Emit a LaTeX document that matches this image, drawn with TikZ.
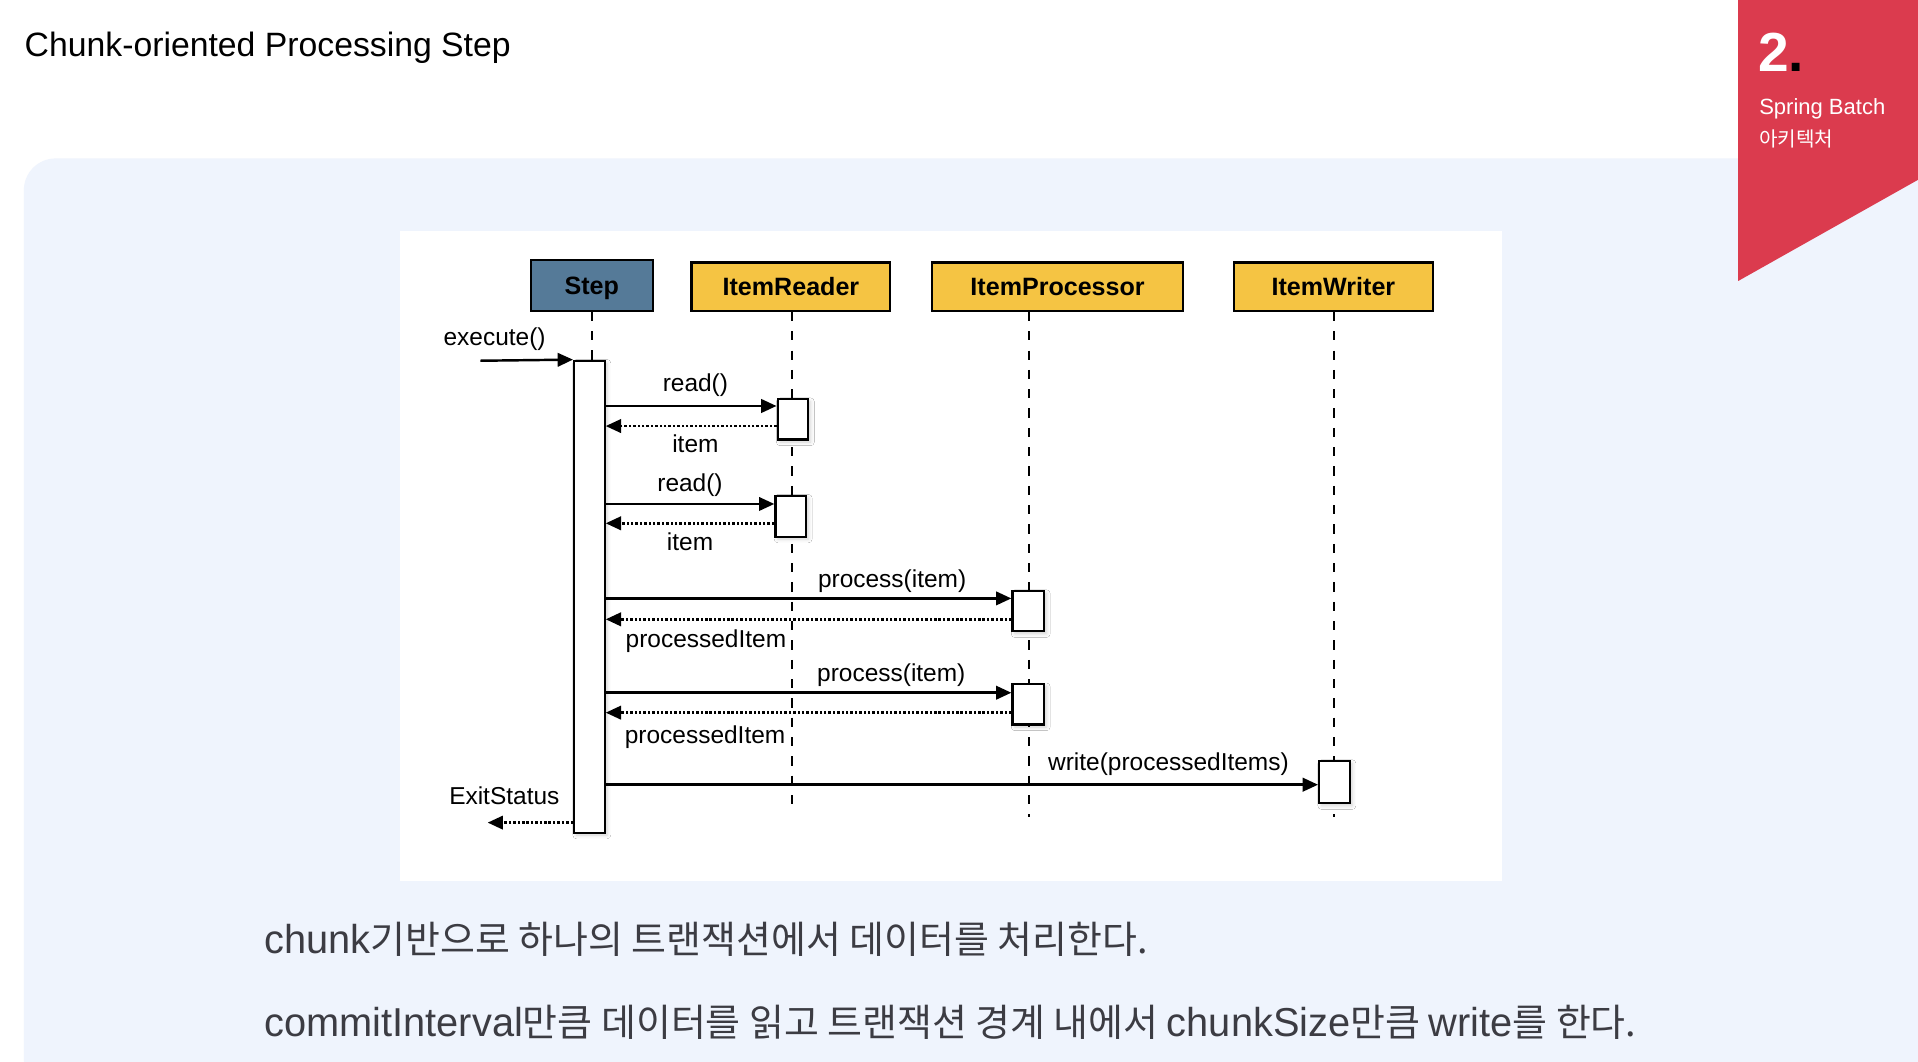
\documentclass[tikz,border=0pt]{standalone}
\usepackage{fontspec}
\setmainfont{Liberation Sans}
\newfontfamily\krfont{Noto Sans CJK KR}
\newfontfamily\bodyfont{Liberation Sans}[FakeStretch=0.985]
\usetikzlibrary{arrows.meta,positioning,shadows.blur}
\definecolor{stepblue}{HTML}{557A98}
\definecolor{partyellow}{HTML}{F5C443}
\definecolor{slidebg}{HTML}{EFF4FD}
\definecolor{chapred}{HTML}{DB3B4E}
\definecolor{bodygray}{HTML}{3C3C43}
\newcommand{\kr}[1]{{\krfont\fontsize{31}{38}\selectfont #1}}

\tikzset{
	header/.style={draw, line width=1.8pt, inner sep=0pt, minimum height=39.5pt, text height=14.7pt, text depth=0pt, font=\fontsize{20.5}{24}\selectfont\bfseries},
	act/.style={draw, fill=white, line width=1.8pt, inner sep=0pt, minimum width=25pt, minimum height=33pt,
		blur shadow={shadow xshift=2pt, shadow yshift=-2pt, shadow blur radius=3pt, shadow opacity=18}},
	call/.style={line width=2pt, -{Triangle[length=12.5pt, width=11pt]}},
	reply/.style={line width=2pt, dash pattern=on 2pt off 1.6pt, -{Triangle[length=12.5pt, width=11pt]}},
	lifeline/.style={line width=1.6pt, dash pattern=on 7.6pt off 8.2pt},
	lbl/.style={font=\fontsize{20}{24}\selectfont, inner sep=2pt, text height=15pt, text depth=4pt}
}

\begin{document}
\begin{tikzpicture}[x=1pt, y=-1pt]

	\useasboundingbox (0,0) rectangle (1568,867.4);
	\clip (0,0) rectangle (1568,867.4);
	\fill[white] (0,0) rectangle (1568,867.4);
	\fill[slidebg, rounded corners=26pt] (19.5,129.5) rectangle (1620,920);
	\fill[chapred] (1421,0) -- (1568,0) -- (1568,147) -- (1421,229.7) -- cycle;
	\fill[white] (327,189) rectangle (1228,720);

	% slide texts
	\node[anchor=base west, inner sep=0pt, font=\fontsize{27.6}{32}\selectfont] (title) at (20,45.8) {Chunk-oriented Processing Step};
	\node[anchor=base west, inner sep=0pt, white, font=\fontsize{45}{50}\selectfont\bfseries] (chapnum) at (1437,58.6) {2\textcolor{black}{.}};
	\node[anchor=base west, inner sep=0pt, white, font=\fontsize{18}{22}\selectfont] (chapname) at (1438,94) {Spring Batch};
	\node[anchor=base west, inner sep=0pt, white, font=\krfont\fontsize{16.5}{20}\selectfont] (chapkr) at (1438,120) {아키텍처};

	% participants
	\node[header, fill=stepblue, minimum width=100pt, minimum height=41.4pt] (step) at (483.8,233.3) {Step};
	\node[header, fill=partyellow, minimum width=162.5pt] (reader) at (646.6,234.3) {ItemReader};
	\node[header, fill=partyellow, minimum width=205pt] (processor) at (864.6,234.3) {ItemProcessor};
	\node[header, fill=partyellow, minimum width=162.3pt] (writer) at (1090.1,234.3) {ItemWriter};

	% lifelines
	\coordinate (readerEnd) at (647.8,663.6);
	\coordinate (processorEnd) at (841.5,667.6);
	\coordinate (writerEnd) at (1090.3,667.6);
	\draw[lifeline] (reader.south -| readerEnd) -- (readerEnd);
	\draw[lifeline] (processor.south -| processorEnd) -- (processorEnd);
	\draw[lifeline] (writer.south -| writerEnd) -- (writerEnd);

	% activations
	\node[act, minimum height=385.8pt] (run) at (481.8,487.8) {};
	\draw[lifeline] (step.south) -- (step.south |- run.north);
	\node[act] (rd1) at (648.2,342.85) {};
	\node[act, minimum height=33.5pt] (rd2) at (646.4,421.95) {};
	\node[act, minimum width=25.8pt] (pr1) at (840.6,499.65) {};
	\node[act, minimum width=25.8pt] (pr2) at (840.6,575.85) {};
	\node[act, minimum height=34.6pt] (wr) at (1090.9,639.4) {};

	% messages
	\coordinate (caller) at (392.7,294.9);
	\coordinate (exitEnd) at (398.7,672.5);
	\draw[call] (caller) -- node[lbl, above=5pt, pos=0.154] {execute()} (run.north west);
	\draw[call] (run.east |- 0,331.9) -- node[lbl, above=5pt, pos=0.525] {read()} (rd1.west |- 0,331.9);
	\draw[reply] (rd1.west |- 0,348.3) -- node[lbl, below=4pt, pos=0.475] {item} (run.east |- 0,348.3);
	\draw[call] (run.east |- 0,412) -- node[lbl, above=3pt] {read()} (rd2.west |- 0,412);
	\draw[reply] (rd2.west |- 0,427.8) -- node[lbl, below=4pt] {item} (run.east |- 0,427.8);
	\draw[call] (run.east |- 0,489.2) -- node[lbl, above=2pt, pos=0.706] {process(item)} (pr1.west |- 0,489.2);
	\draw[reply] (pr1.west |- 0,506.3) -- node[lbl, below=5pt, pos=0.753] {processedItem} (run.east |- 0,506.3);
	\draw[call] (run.east |- 0,566.3) -- node[lbl, above=2pt, pos=0.704] {process(item)} (pr2.west |- 0,566.3);
	\draw[reply] (pr2.west |- 0,582.6) -- node[lbl, below=7pt, pos=0.755] {processedItem} (run.east |- 0,582.6);
	\draw[call] (run.east |- 0,641.5) -- node[lbl, above=4.5pt, pos=0.79] {write(processedItems)} (wr.west |- 0,641.5);
	\draw[reply] (run.west |- 0,672.5) -- node[lbl, above=7.5pt, pos=0.805] {ExitStatus} (exitEnd);

	% notes under the diagram
	\node[anchor=base west, inner sep=0pt, bodygray, font=\bodyfont\fontsize{33}{40}\selectfont] (note1) at (216,779.4) {chunk\kr{기반으로 하나의 트랜잭션에서 데이터를 처리한다.}};
	\node[anchor=base west, inner sep=0pt, bodygray, font=\bodyfont\fontsize{33}{40}\selectfont] (note2) at (216,847.5) {commitInterval\kr{만큼 데이터를 읽고 트랜잭션 경계 내에서 }chunkSize\kr{만큼 }write\kr{를 한다.}};
\end{tikzpicture}
\end{document}
